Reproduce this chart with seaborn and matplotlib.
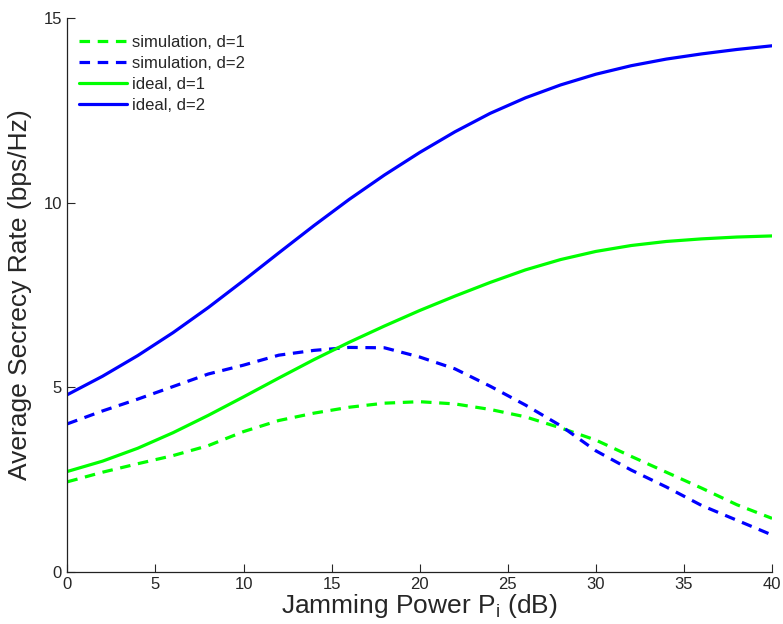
import numpy as np
import pandas as pd
import matplotlib
matplotlib.use('Agg')
import matplotlib.pyplot as plt
import seaborn as sns

# data
power_db = [0, 2, 4, 6, 8, 10, 12, 14, 16, 18, 20, 22, 24, 26, 28, 30, 32, 34, 36, 38, 40]
sim_d1 = [2.44, 2.70, 2.93, 3.15, 3.42, 3.80, 4.10, 4.30, 4.46, 4.57, 4.61, 4.55, 4.40, 4.20,
          3.90, 3.57, 3.13, 2.70, 2.27, 1.82, 1.45]
sim_d2 = [4.01, 4.36, 4.68, 5.02, 5.36, 5.60, 5.87, 6.00, 6.08, 6.07, 5.82, 5.50, 5.03, 4.52,
          3.96, 3.28, 2.76, 2.30, 1.80, 1.40, 1.00]
ideal_d1 = [2.72, 3.00, 3.35, 3.77, 4.24, 4.74, 5.25, 5.75, 6.22, 6.66, 7.08, 7.47, 7.84, 8.18,
            8.46, 8.68, 8.84, 8.95, 9.02, 9.07, 9.10]
ideal_d2 = [4.80, 5.30, 5.86, 6.48, 7.16, 7.89, 8.64, 9.38, 10.09, 10.75, 11.36, 11.92, 12.42,
            12.84, 13.19, 13.48, 13.71, 13.89, 14.03, 14.15, 14.25]

labels = ['simulation, d=1', 'simulation, d=2', 'ideal, d=1', 'ideal, d=2']
series = [sim_d1, sim_d2, ideal_d1, ideal_d2]
colors = ['#00ff00', '#0000ff', '#00ff00', '#0000ff']
dashed = [True, True, False, False]

sns.set_style('ticks')
plt.rcParams['font.family'] = ['Liberation Sans', 'DejaVu Sans']

fig = plt.figure(figsize=(7.83, 6.24), dpi=100)
ax = fig.add_axes([0.086, 0.0835, 0.9, 0.8875])

for lab, vals, col, dsh in zip(labels, series, colors, dashed):
    df = pd.DataFrame({'x': power_db, 'y': vals})
    sns.lineplot(data=df, x='x', y='y', color=col, linewidth=2.3, label=lab, ax=ax)
    if dsh:
        ax.lines[-1].set_dashes((3.3, 2.4))

ax.set_xlim(0, 40)
ax.set_ylim(0, 15)
ax.set_xticks(np.arange(0, 41, 5))
ax.set_yticks([0, 5, 10, 15])
ax.tick_params(direction='in', length=6, width=0.8, labelsize=12, pad=4)
for s in ['top', 'right']:
    ax.spines[s].set_visible(False)
for s in ['left', 'bottom']:
    ax.spines[s].set_linewidth(0.9)
    ax.spines[s].set_color('#222222')

ax.set_xlabel('Jamming Power P$_\\mathregular{i}$ (dB)', fontsize=19, labelpad=0)
ax.set_ylabel('Average Secrecy Rate (bps/Hz)', fontsize=19, labelpad=8)

leg = ax.legend(loc='upper left', frameon=False, handlelength=2.9,
                prop={'size': 12}, borderaxespad=0.3, labelspacing=0.36,
                handletextpad=0.3, bbox_to_anchor=(0.0, 0.99))

fig.savefig('out.png', dpi=100)
